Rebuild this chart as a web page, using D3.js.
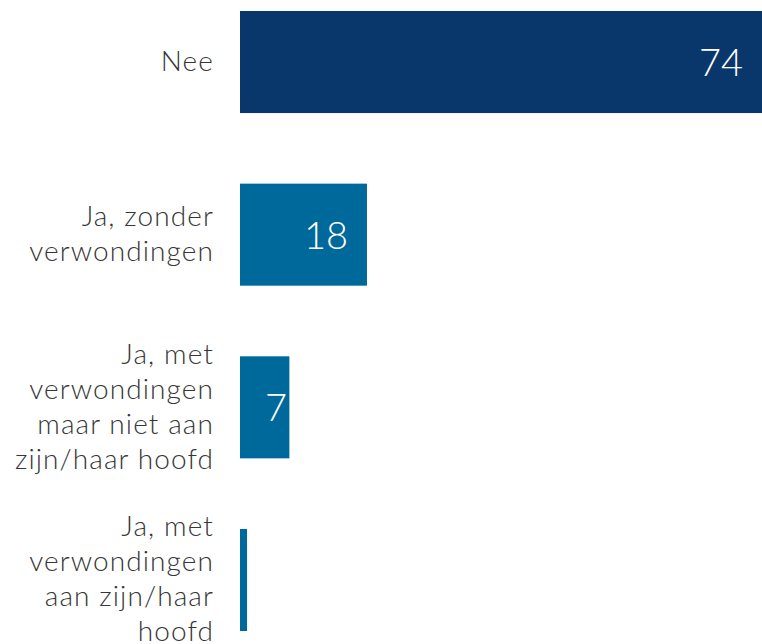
<!DOCTYPE html>
<html>
<head>
<meta charset="utf-8">
<script src="https://cdn.jsdelivr.net/npm/d3@7"></script>
<style>
  body { margin: 0; background: #fff; }
  svg { display: block; }
</style>
</head>
<body>
<div id="chart"></div>
<script>
const categories = [
  'Nee',
  'Ja, zonder\nverwondingen',
  'Ja, met\nverwondingen\nmaar niet aan\nzijn/haar hoofd',
  'Ja, met\nverwondingen\naan zijn/haar\nhoofd'
];
const values = [74, 18, 7, 1];
const barColors = ['#0a376b', '#00699b', '#00699b', '#00699b'];

const width = 762;
const height = 644;

const svg = d3.select('#chart').append('svg')
  .attr('width', width)
  .attr('height', height);

const x = d3.scaleLinear()
  .domain([0, 74])
  .range([240, 762]);

const y = d3.scaleBand()
  .domain(categories)
  .range([11, 631])
  .paddingInner(0.409)
  .paddingOuter(0);

const data = categories.map((c, i) => ({ cat: c, value: values[i], color: barColors[i] }));

svg.selectAll('.bar')
  .data(data)
  .enter().append('rect')
  .attr('class', 'bar')
  .attr('x', x(0))
  .attr('y', d => y(d.cat))
  .attr('width', d => x(d.value) - x(0))
  .attr('height', y.bandwidth())
  .style('fill', d => d.color);

// category labels, one tspan per line
const lineH = 35;
const labels = svg.selectAll('.label')
  .data(data)
  .enter().append('text')
  .attr('class', 'label')
  .attr('text-anchor', 'end')
  .style('font-family', 'Lato, sans-serif')
  .style('font-weight', 300)
  .style('font-size', '28px')
  .style('letter-spacing', '1.1px')
  .style('fill', '#363636');

labels.each(function(d) {
  const lines = d.cat.split('\n');
  const mid = y(d.cat) + y.bandwidth() / 2;
  const first = mid + 9 - (lines.length - 1) * lineH / 2;
  d3.select(this).selectAll('tspan')
    .data(lines)
    .enter().append('tspan')
    .attr('x', 214)
    .attr('y', (l, i) => first + i * lineH)
    .text(l => l);
});

// value labels inside the bars
svg.selectAll('.value')
  .data(data.filter(d => d.value >= 5))
  .enter().append('text')
  .attr('class', 'value')
  .attr('text-anchor', 'end')
  .attr('y', d => y(d.cat) + y.bandwidth() / 2 + 14)
  .style('font-family', 'Lato, sans-serif')
  .style('font-weight', 300)
  .style('font-size', '38px')
  .style('fill', '#fff')
  .text(d => d.value)
  .attr('x', function(d) {
    const w = this.getComputedTextLength();
    return Math.max(x(d.value) - 19, x(0) + 25 + w);
  });
</script>
</body>
</html>
